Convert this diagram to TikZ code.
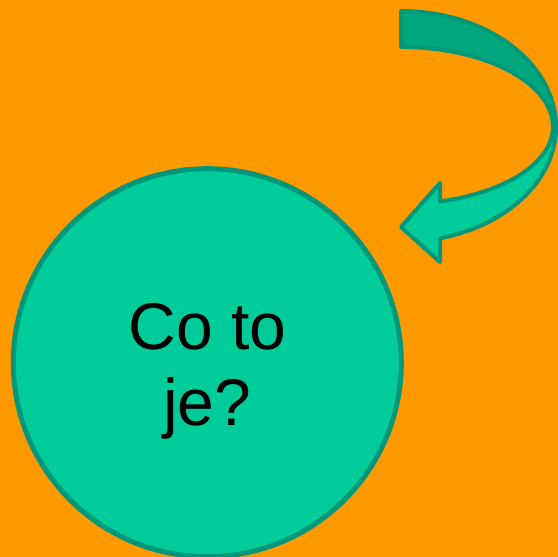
\documentclass[tikz,border=0pt]{standalone}
\usepackage{fontspec}
\setmainfont{Liberation Sans}
\definecolor{bgorange}{HTML}{FF9900}
\definecolor{mint}{HTML}{00CC99}
\definecolor{mintdark}{HTML}{00A67C}
\definecolor{edgegreen}{HTML}{00977A}
\begin{document}
\begin{tikzpicture}[x=1pt,y=1pt,
  shapeline/.style={draw=edgegreen, line width=4pt, line join=round},
  bubble/.style={circle, shapeline, line width=5pt, fill=mint, minimum size=388pt, inner sep=0pt},
  bubbletext/.style={align=center, font=\fontsize{66}{76}\selectfont, text=black, inner sep=0pt}]
\useasboundingbox (0,0) rectangle (558,557);
\fill[bgorange] (0,0) rectangle (558,557);
% back (darker) part of the curved arrow
\path[shapeline, fill=mintdark] (401,546) arc[start angle=90, end angle=0, x radius=155, y radius=116]
  -- (553,430) arc[start angle=0, end angle=90, x radius=152, y radius=80] -- cycle;
% front part of the curved arrow with its head
\path[shapeline, fill=mint] (556,430) arc[start angle=0, end angle=-75.4, x radius=155, y radius=115]
  -- (440,295) -- (401,330) -- (440,374) -- (440,355.6)
  arc[start angle=-75.1, end angle=0, x radius=152, y radius=77] -- cycle;
\node[bubble] (q) at (207.3,194.3) {};
\node[bubbletext] (qtext) at ([yshift=-9pt]q.center) {Co to\\je?};
\end{tikzpicture}
\end{document}
